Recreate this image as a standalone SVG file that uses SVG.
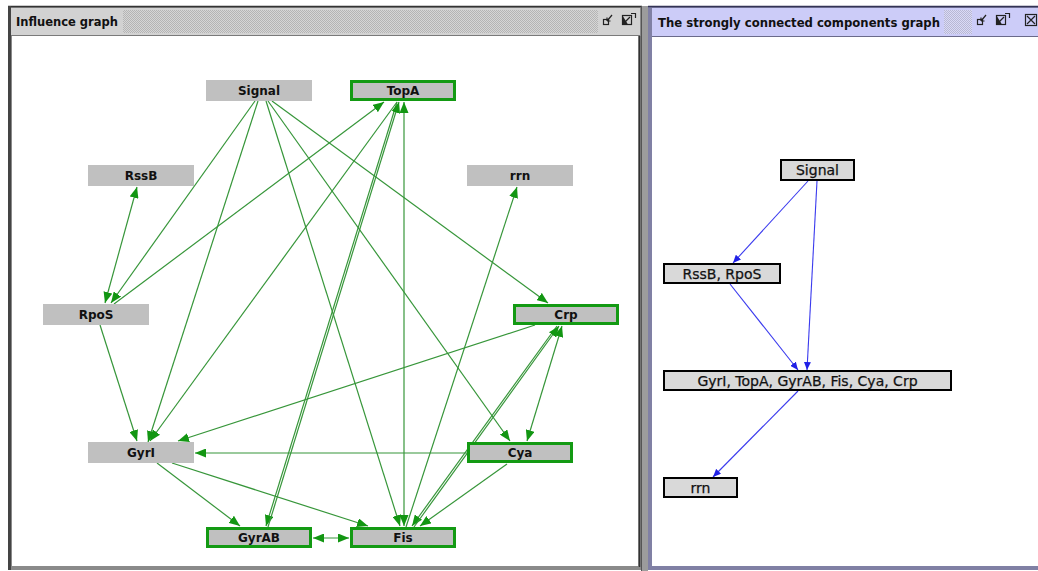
<svg xmlns="http://www.w3.org/2000/svg" width="1038" height="571" viewBox="0 0 1038 571">
<defs>
  <style>
    .gnode{fill:#c0c0c0;}
    .gbox{fill:#c0c0c0;stroke:#139a13;stroke-width:3;}
    .glabel{font-family:"DejaVu Sans",sans-serif;font-weight:bold;font-size:12px;fill:#111;text-anchor:middle;}
    .sbox{fill:#d9d9d9;stroke:#000;stroke-width:2;}
    .slabel{font-family:"DejaVu Sans",sans-serif;font-size:14px;fill:#111;text-anchor:middle;stroke:#111;stroke-width:0.25;}
    .ge{stroke:#37963a;stroke-width:1.2;fill:none;marker-end:url(#ag);}
    .ge2{stroke:#37963a;stroke-width:1.2;fill:none;marker-end:url(#ag);marker-start:url(#ag);}
    .be{stroke:#3a3aee;stroke-width:1.1;fill:none;marker-end:url(#ab);}
    .title{font-family:"DejaVu Sans",sans-serif;font-weight:bold;font-size:13px;fill:#111;}
    .ic{fill:none;stroke:#222;stroke-width:1.2;}
  </style>
  <marker id="ag" viewBox="0 0 11 9" refX="11" refY="4.5" markerWidth="11" markerHeight="9" markerUnits="userSpaceOnUse" orient="auto-start-reverse">
    <path d="M0,0 L11,4.5 L0,9 z" fill="#129612"/>
  </marker>
  <marker id="ab" viewBox="0 0 8 7" refX="8" refY="3.5" markerWidth="8" markerHeight="7" markerUnits="userSpaceOnUse" orient="auto">
    <path d="M0,0 L8,3.5 L0,7 z" fill="#2020e6"/>
  </marker>
  <pattern id="tex" width="2" height="2" patternUnits="userSpaceOnUse">
    <rect width="2" height="2" fill="#d6d6d6"/>
    <rect width="1" height="1" fill="#b4b4b4"/>
    <rect x="1" y="1" width="1" height="1" fill="#b4b4b4"/>
  </pattern>
  <pattern id="texb" width="2" height="2" patternUnits="userSpaceOnUse">
    <rect width="2" height="2" fill="#dadaf6"/>
    <rect width="1" height="1" fill="#b8b8d4"/>
    <rect x="1" y="1" width="1" height="1" fill="#b8b8d4"/>
  </pattern>
</defs>

<rect width="1038" height="571" fill="#ffffff"/>

<!-- left window chrome -->
<g id="window-left">
  <rect x="8" y="6" width="634" height="564" fill="#8a8a8a"/>
  <rect x="10" y="8" width="630" height="27" fill="#d2d2d2"/>
  <rect x="123" y="10" width="475" height="23" fill="url(#tex)"/>
  <line x1="10" y1="35.5" x2="640" y2="35.5" stroke="#7a7a7a" stroke-width="1"/>
  <rect x="12" y="36" width="626" height="530" fill="#ffffff"/>
  <line x1="8" y1="6.5" x2="642" y2="6.5" stroke="#333" stroke-width="1.5"/>
  <line x1="9.5" y1="6" x2="9.5" y2="570" stroke="#444" stroke-width="3"/>
  <line x1="639.5" y1="36" x2="639.5" y2="567" stroke="#333" stroke-width="1.5"/>
  <text class="title" x="16" y="26" textLength="102" lengthAdjust="spacingAndGlyphs">Influence graph</text>
  <g>
    <rect x="603.5" y="19.5" width="5" height="5" class="ic"/>
    <path d="M607,21 L612,15 M607,21 L607,17.5 M607,21 L610.5,21" class="ic"/>
    <rect x="622.5" y="15.5" width="9" height="9" class="ic"/>
    <path d="M622.5,15.5 L628,24.5 L622.5,24.5 z" fill="#222" stroke="none"/>
    <path d="M624,23 L630,17" class="ic"/>
    <path d="M631,13.5 L635.5,13.5 L635.5,18" class="ic"/>
  </g>
</g>

<!-- divider -->
<rect x="641" y="6" width="7" height="565" fill="#9c9c9c"/>
<line x1="641.5" y1="6" x2="641.5" y2="571" stroke="#555" stroke-width="1"/>

<!-- right window chrome -->
<g id="window-right">
  <rect x="648" y="6" width="390" height="564" fill="#8080a4"/>
  <rect x="652" y="8" width="386" height="28" fill="#ccccf8"/>
  <rect x="944" y="10" width="28" height="24" fill="url(#texb)"/>
  <line x1="652" y1="36.5" x2="1038" y2="36.5" stroke="#6a6a8a" stroke-width="1"/>
  <rect x="652" y="37" width="386" height="529" fill="#ffffff"/>
  <line x1="648" y1="6.5" x2="1038" y2="6.5" stroke="#333355" stroke-width="1.5"/>
  <text class="title" x="658" y="27" textLength="282" lengthAdjust="spacingAndGlyphs">The strongly connected components graph</text>
  <g>
    <rect x="977.5" y="19.5" width="5" height="5" class="ic"/>
    <path d="M981,21 L986,15 M981,21 L981,17.5 M981,21 L984.5,21" class="ic"/>
    <rect x="996.5" y="15.5" width="9" height="9" class="ic"/>
    <path d="M996.5,15.5 L1002,24.5 L996.5,24.5 z" fill="#222" stroke="none"/>
    <path d="M998,23 L1004,17" class="ic"/>
    <path d="M1005,13.5 L1009.5,13.5 L1009.5,18" class="ic"/>
    <rect x="1025.5" y="14.5" width="11" height="11" class="ic"/>
    <path d="M1027,16 L1035,24 M1035,16 L1027,24" class="ic"/>
  </g>
</g>

<!-- influence graph connectors -->
<g id="influence-edges">
  <line class="ge" x1="255" y1="101" x2="111" y2="303"/>
  <line class="ge" x1="258" y1="101" x2="148" y2="442"/>
  <line class="ge" x1="266" y1="101" x2="400" y2="526"/>
  <line class="ge" x1="268" y1="101" x2="510" y2="441"/>
  <line class="ge" x1="272" y1="101" x2="548" y2="303"/>
  <line class="ge2" x1="137" y1="187" x2="105" y2="303"/>
  <line class="ge" x1="114" y1="304" x2="384" y2="102"/>
  <line class="ge" x1="100" y1="325" x2="137" y2="441"/>
  <line class="ge" x1="397" y1="102" x2="150" y2="441"/>
  <line class="ge" x1="397" y1="102" x2="266" y2="526"/>
  <line class="ge" x1="268" y1="527" x2="399" y2="102"/>
  <line class="ge2" x1="404" y1="102" x2="404" y2="526"/>
  <line class="ge" x1="406" y1="527" x2="517" y2="187"/>
  <line class="ge2" x1="562" y1="326" x2="527" y2="441"/>
  <line class="ge" x1="557" y1="326" x2="412" y2="526"/>
  <line class="ge" x1="414" y1="527" x2="559" y2="326"/>
  <line class="ge" x1="535" y1="325" x2="178" y2="441"/>
  <line class="ge" x1="467" y1="453" x2="195" y2="453"/>
  <line class="ge" x1="507" y1="464" x2="420" y2="526"/>
  <line class="ge" x1="157" y1="463" x2="240" y2="526"/>
  <line class="ge" x1="172" y1="463" x2="368" y2="526"/>
  <line class="ge2" x1="313" y1="538" x2="349" y2="538"/>
</g>

<!-- influence graph nodes -->
<g id="n-signal"><rect class="gnode" x="206" y="80" width="106" height="21"/><text class="glabel" x="259" y="95">Signal</text></g>
<g id="n-topa"><rect class="gbox" x="351.5" y="81.5" width="103" height="18"/><text class="glabel" x="403" y="95">TopA</text></g>
<g id="n-rssb"><rect class="gnode" x="88" y="165" width="106" height="21"/><text class="glabel" x="141" y="180">RssB</text></g>
<g id="n-rrn"><rect class="gnode" x="467" y="165" width="106" height="21"/><text class="glabel" x="520" y="180">rrn</text></g>
<g id="n-rpos"><rect class="gnode" x="43" y="304" width="106" height="21"/><text class="glabel" x="96" y="319">RpoS</text></g>
<g id="n-crp"><rect class="gbox" x="514.5" y="305.5" width="103" height="18"/><text class="glabel" x="566" y="319">Crp</text></g>
<g id="n-gyri"><rect class="gnode" x="88" y="442" width="106" height="21"/><text class="glabel" x="141" y="457">GyrI</text></g>
<g id="n-cya"><rect class="gbox" x="468.5" y="443.5" width="103" height="18"/><text class="glabel" x="520" y="457">Cya</text></g>
<g id="n-gyrab"><rect class="gbox" x="207.5" y="528.5" width="103" height="18"/><text class="glabel" x="259" y="542">GyrAB</text></g>
<g id="n-fis"><rect class="gbox" x="351.5" y="528.5" width="103" height="18"/><text class="glabel" x="403" y="542">Fis</text></g>

<!-- SCC graph connectors -->
<g id="scc-edges">
  <line class="be" x1="808" y1="181" x2="733" y2="263"/>
  <line class="be" x1="817" y1="181" x2="807" y2="370"/>
  <line class="be" x1="730" y1="284" x2="798" y2="370"/>
  <line class="be" x1="798" y1="391" x2="713" y2="477"/>
</g>

<!-- SCC graph nodes -->
<g id="s-signal"><rect class="sbox" x="781" y="160" width="73" height="20"/><text class="slabel" x="817.5" y="175">Signal</text></g>
<g id="s-rssb-rpos"><rect class="sbox" x="664" y="264" width="116" height="19"/><text class="slabel" x="722" y="279">RssB, RpoS</text></g>
<g id="s-big"><rect class="sbox" x="664" y="371" width="287" height="19"/><text class="slabel" x="807.5" y="386">GyrI, TopA, GyrAB, Fis, Cya, Crp</text></g>
<g id="s-rrn"><rect class="sbox" x="664" y="478" width="73" height="19"/><text class="slabel" x="700.5" y="493">rrn</text></g>
</svg>
